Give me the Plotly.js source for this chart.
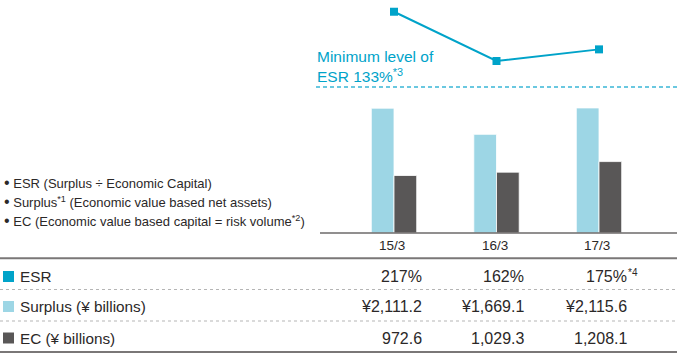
<!DOCTYPE html>
<html><head><meta charset="utf-8">
<script src="https://cdn.plot.ly/plotly-3.0.1.min.js"></script>
<style>html,body{margin:0;padding:0;background:#fff}#c{width:677px;height:355px}</style>
</head><body><div id="c"></div>
<script>
const categories = ['15/3', '16/3', '17/3'];
const esr = [217, 162, 175];
const surplus = [2111.2, 1669.1, 2115.6];
const ec = [972.6, 1029.3, 1208.1];
const esrMinimum = 133;
const esrNotes = ['', '', '*4'];
const legendItems = ['ESR (Surplus ÷ Economic Capital)', 'Surplus<sup>*1</sup> (Economic value based net assets)', 'EC (Economic value based capital = risk volume<sup>*2</sup>)'];
const rowLabels = ['ESR', 'Surplus (¥ billions)', 'EC (¥ billions)'];
const minLabel = 'Minimum level of<br>ESR 133%<sup>*3</sup>';

const W = 677, H = 355;
const cESR = '#00a3c9', cSur = '#9dd6e5', cEC = '#595757', txt = '#2b2828';
const py = p => 1 - p / H;
const fmt1 = v => v.toLocaleString('en-US', {minimumFractionDigits: 1, maximumFractionDigits: 1});

const traces = [
  {type: 'bar', x: categories, y: surplus, marker: {color: cSur, line: {color: '#fff', width: 0.8}}, hoverinfo: 'none'},
  {type: 'bar', x: categories, y: ec, marker: {color: cEC, line: {color: '#fff', width: 0.8}}, hoverinfo: 'none'},
  {type: 'scatter', mode: 'lines+markers', x: categories, y: esr, yaxis: 'y2',
   line: {color: cESR, width: 2}, marker: {symbol: 'square', size: 8, color: cESR}, hoverinfo: 'none'}
];

const shapes = [
  {type: 'line', xref: 'paper', yref: 'paper', x0: 320 / W, x1: 1, y0: py(233), y1: py(233), line: {color: '#6d6a6a', width: 1.5}},
  {type: 'line', xref: 'paper', yref: 'y2', x0: 316 / W, x1: 1, y0: esrMinimum, y1: esrMinimum, line: {color: '#3ab7d6', width: 1.3, dash: '4px,3px'}},
  {type: 'line', xref: 'paper', yref: 'paper', x0: 0, x1: 1, y0: py(258.3), y1: py(258.3), line: {color: '#7a7777', width: 2}},
  {type: 'line', xref: 'paper', yref: 'paper', x0: 0, x1: 1, y0: py(289.5), y1: py(289.5), line: {color: '#b5b5b5', width: 1, dash: 'dot'}},
  {type: 'line', xref: 'paper', yref: 'paper', x0: 0, x1: 1, y0: py(321), y1: py(321), line: {color: '#b5b5b5', width: 1, dash: 'dot'}},
  {type: 'line', xref: 'paper', yref: 'paper', x0: 0, x1: 1, y0: py(352), y1: py(352), line: {color: '#7a7777', width: 2}}
];
const sqColors = [cESR, cSur, cEC];
const rowY = [276.5, 306.5, 338];
rowY.forEach((y, i) => shapes.push({type: 'rect', xref: 'paper', yref: 'paper', x0: 3 / W, x1: 14 / W, y0: py(y + 5.5), y1: py(y - 5.5), line: {width: 0}, fillcolor: sqColors[i]}));

const ann = [];
const font = (s, c) => ({family: 'Liberation Sans, Arial, sans-serif', size: s, color: c || txt});
// left legend
const legY = [182, 201, 221];
legendItems.forEach((t, i) => {
  ann.push({xref: 'paper', yref: 'paper', x: 2 / W, y: py(legY[i]), xanchor: 'left', yanchor: 'middle', showarrow: false, text: '<span style="font-size:16px">•</span> ' + t, font: font(13)});
});
// minimum label
ann.push({xref: 'paper', yref: 'paper', x: 315 / W, y: py(66.5), xanchor: 'left', yanchor: 'middle', align: 'left', showarrow: false, text: minLabel, font: font(15.5, cESR)});
// header
categories.forEach((c, i) => ann.push({xref: 'x', yref: 'paper', x: c, y: py(245.5), xanchor: 'center', yanchor: 'middle', xshift: -2, showarrow: false, text: c, font: font(13.5)}));
// row labels
rowLabels.forEach((t, i) => ann.push({xref: 'paper', yref: 'paper', x: 18 / W, y: py(rowY[i]), xanchor: 'left', yanchor: 'middle', showarrow: false, text: t, font: font(15.3)}));
// values
const rightX = [423.5, 526, 628.5];
categories.forEach((c, i) => {
  ann.push({xref: 'paper', yref: 'paper', x: rightX[i] / W, y: py(rowY[0]), xanchor: 'right', yanchor: 'middle', showarrow: false, text: esr[i] + '%', font: font(16)});
  if (esrNotes[i]) ann.push({xref: 'paper', yref: 'paper', x: (rightX[i] - 3) / W, y: py(rowY[0] - 4.5), xanchor: 'left', yanchor: 'middle', showarrow: false, text: esrNotes[i], font: font(10)});
  ann.push({xref: 'paper', yref: 'paper', x: rightX[i] / W, y: py(rowY[1]), xanchor: 'right', yanchor: 'middle', showarrow: false, text: '¥' + fmt1(surplus[i]), font: font(16)});
  ann.push({xref: 'paper', yref: 'paper', x: rightX[i] / W, y: py(rowY[2]), xanchor: 'right', yanchor: 'middle', showarrow: false, text: fmt1(ec[i]), font: font(16)});
});

const layout = {
  width: W, height: H, margin: {l: 0, r: 0, t: 0, b: 0}, showlegend: false,
  paper_bgcolor: '#fff', plot_bgcolor: 'rgba(0,0,0,0)',
  barmode: 'group', bargap: 0.557, bargroupgap: 0,
  xaxis: {type: 'category', range: [-3.844, 2.761], showticklabels: false, showgrid: false, zeroline: false, showline: false, ticks: ''},
  yaxis: {domain: [1 - 233 / H, 1], range: [0, 3942], visible: false, showgrid: false, zeroline: false},
  yaxis2: {overlaying: 'y', range: [-29.96, 230.1], visible: false, showgrid: false, zeroline: false},
  shapes: shapes, annotations: ann
};
Plotly.newPlot('c', traces, layout, {staticPlot: true});
</script></body></html>
